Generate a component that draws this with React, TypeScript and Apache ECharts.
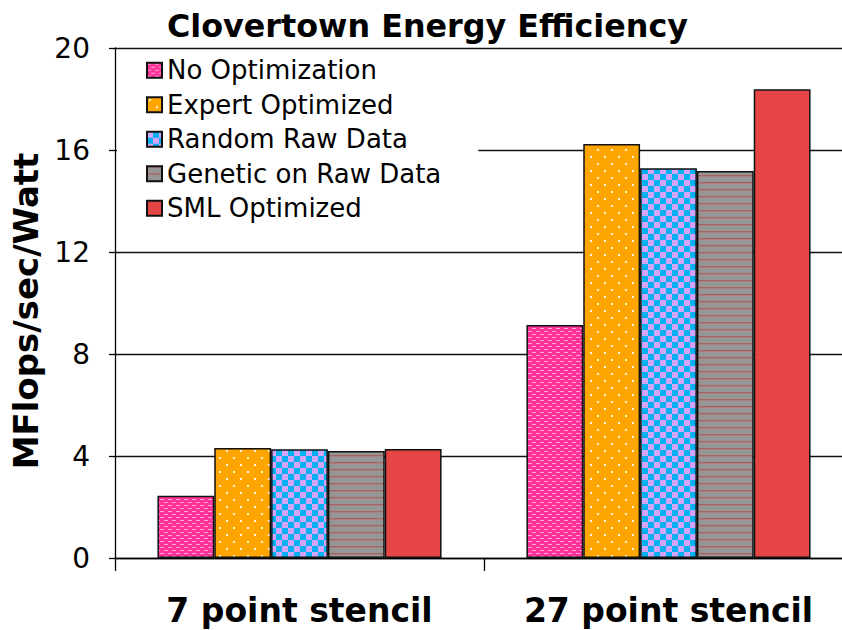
import React, { useEffect, useRef } from 'react';
import * as echarts from 'echarts';

const titleText = 'Clovertown Energy Efficiency';
const yAxisName = 'MFlops/sec/Watt';
const categories = ['7 point stencil', '27 point stencil'];
const seriesNames = ['No Optimization', 'Expert Optimized', 'Random Raw Data', 'Genetic on Raw Data', 'SML Optimized'];
const noOptimization = [2.44, 9.14];
const expertOptimized = [4.31, 16.24];
const randomRawData = [4.26, 15.28];
const geneticOnRawData = [4.2, 15.18];
const smlOptimized = [4.27, 18.38];
const yTicks = [0, 4, 8, 12, 16, 20];

const FONT = 'DejaVu Sans';

function tile(w: number, h: number, draw: (ctx: CanvasRenderingContext2D) => void) {
  const c = document.createElement('canvas');
  c.width = w;
  c.height = h;
  const ctx = c.getContext('2d')!;
  draw(ctx);
  return { image: c, repeat: 'repeat', imageWidth: w, imageHeight: h } as any;
}

export default function App() {
  const ref = useRef<HTMLDivElement>(null);
  useEffect(() => {
    if (!ref.current) return;
    const chart = echarts.init(ref.current, null, { renderer: 'svg' });

    const pink = tile(8, 6, (ctx) => {
      ctx.fillStyle = '#FF3399';
      ctx.fillRect(0, 0, 8, 6);
      ctx.fillStyle = '#FFA3D1';
      ctx.fillRect(0, 1, 4, 1);
      ctx.fillRect(4, 4, 4, 1);
    });
    const orange = tile(14, 14, (ctx) => {
      ctx.fillStyle = '#FFA500';
      ctx.fillRect(0, 0, 14, 14);
      ctx.fillStyle = '#FFF6E0';
      ctx.fillRect(2, 2, 2, 2);
      ctx.fillRect(9, 9, 2, 2);
    });
    const blue = tile(12, 12, (ctx) => {
      ctx.fillStyle = '#00B0F0';
      ctx.fillRect(0, 0, 12, 12);
      ctx.fillStyle = '#D2A4FA';
      ctx.fillRect(0, 0, 6, 6);
      ctx.fillRect(6, 6, 6, 6);
    });
    const gray = tile(4, 7, (ctx) => {
      ctx.fillStyle = '#969696';
      ctx.fillRect(0, 0, 4, 7);
      ctx.fillStyle = '#A46464';
      ctx.fillRect(0, 0, 4, 1);
      ctx.fillStyle = '#A88080';
      ctx.fillRect(0, 1, 4, 1);
    });
    const red = '#E64545';

    const fills = [pink, orange, blue, gray, red];
    const values = [noOptimization, expertOptimized, randomRawData, geneticOnRawData, smlOptimized];

    chart.setOption({
      animation: false,
      backgroundColor: '#fff',
      textStyle: { fontFamily: FONT },
      title: {
        text: titleText,
        left: 162,
        top: 4,
        textStyle: { fontFamily: FONT, fontSize: 31.8, fontWeight: 'bold', color: '#000' },
      },
      legend: {
        orient: 'vertical',
        left: 117,
        top: 50,
        backgroundColor: '#fff',
        padding: [3, 37, 4, 29],
        itemGap: 0,
        itemWidth: 15,
        itemHeight: 15,
        icon: 'rect',
        data: seriesNames,
        textStyle: { fontFamily: FONT, fontSize: 26, color: '#000', lineHeight: 34.5 },
      },
      grid: { left: 115, top: 48, width: 738, height: 510, outerBoundsMode: 'none', containLabel: false },
      xAxis: {
        type: 'category',
        data: categories,
        axisLine: { show: true, lineStyle: { color: '#000', width: 1.3 } },
        axisTick: { show: true, length: 13, lineStyle: { color: '#000', width: 1.3 } },
        axisLabel: { interval: 0, fontFamily: FONT, fontSize: 33, fontWeight: 'bold', color: '#000', margin: 36 },
      },
      yAxis: {
        type: 'value',
        min: yTicks[0],
        max: yTicks[yTicks.length - 1],
        interval: 4,
        name: yAxisName,
        nameLocation: 'middle',
        nameGap: 69,
        nameTextStyle: { fontFamily: FONT, fontSize: 34, fontWeight: 'bold', color: '#000', padding: [0, 16, 0, 0] },
        axisLine: { show: true, lineStyle: { color: '#000', width: 1.3 } },
        axisTick: { show: true, length: 6, lineStyle: { color: '#000', width: 1.3 } },
        axisLabel: { fontFamily: FONT, fontSize: 28, color: '#000', margin: 25 },
        splitLine: { show: true, lineStyle: { color: '#111', width: 1.3 } },
      },
      series: seriesNames.map((name, i) => ({
        name,
        type: 'bar',
        data: values[i],
        barGap: '0%',
        barCategoryGap: '23%',
        itemStyle: { color: fills[i], borderColor: '#111', borderWidth: 1.5 },
      })),
    });
    return () => chart.dispose();
  }, []);
  return <div ref={ref} style={{ position: 'fixed', left: 0, top: 0, width: 842, height: 630 }} />;
}
